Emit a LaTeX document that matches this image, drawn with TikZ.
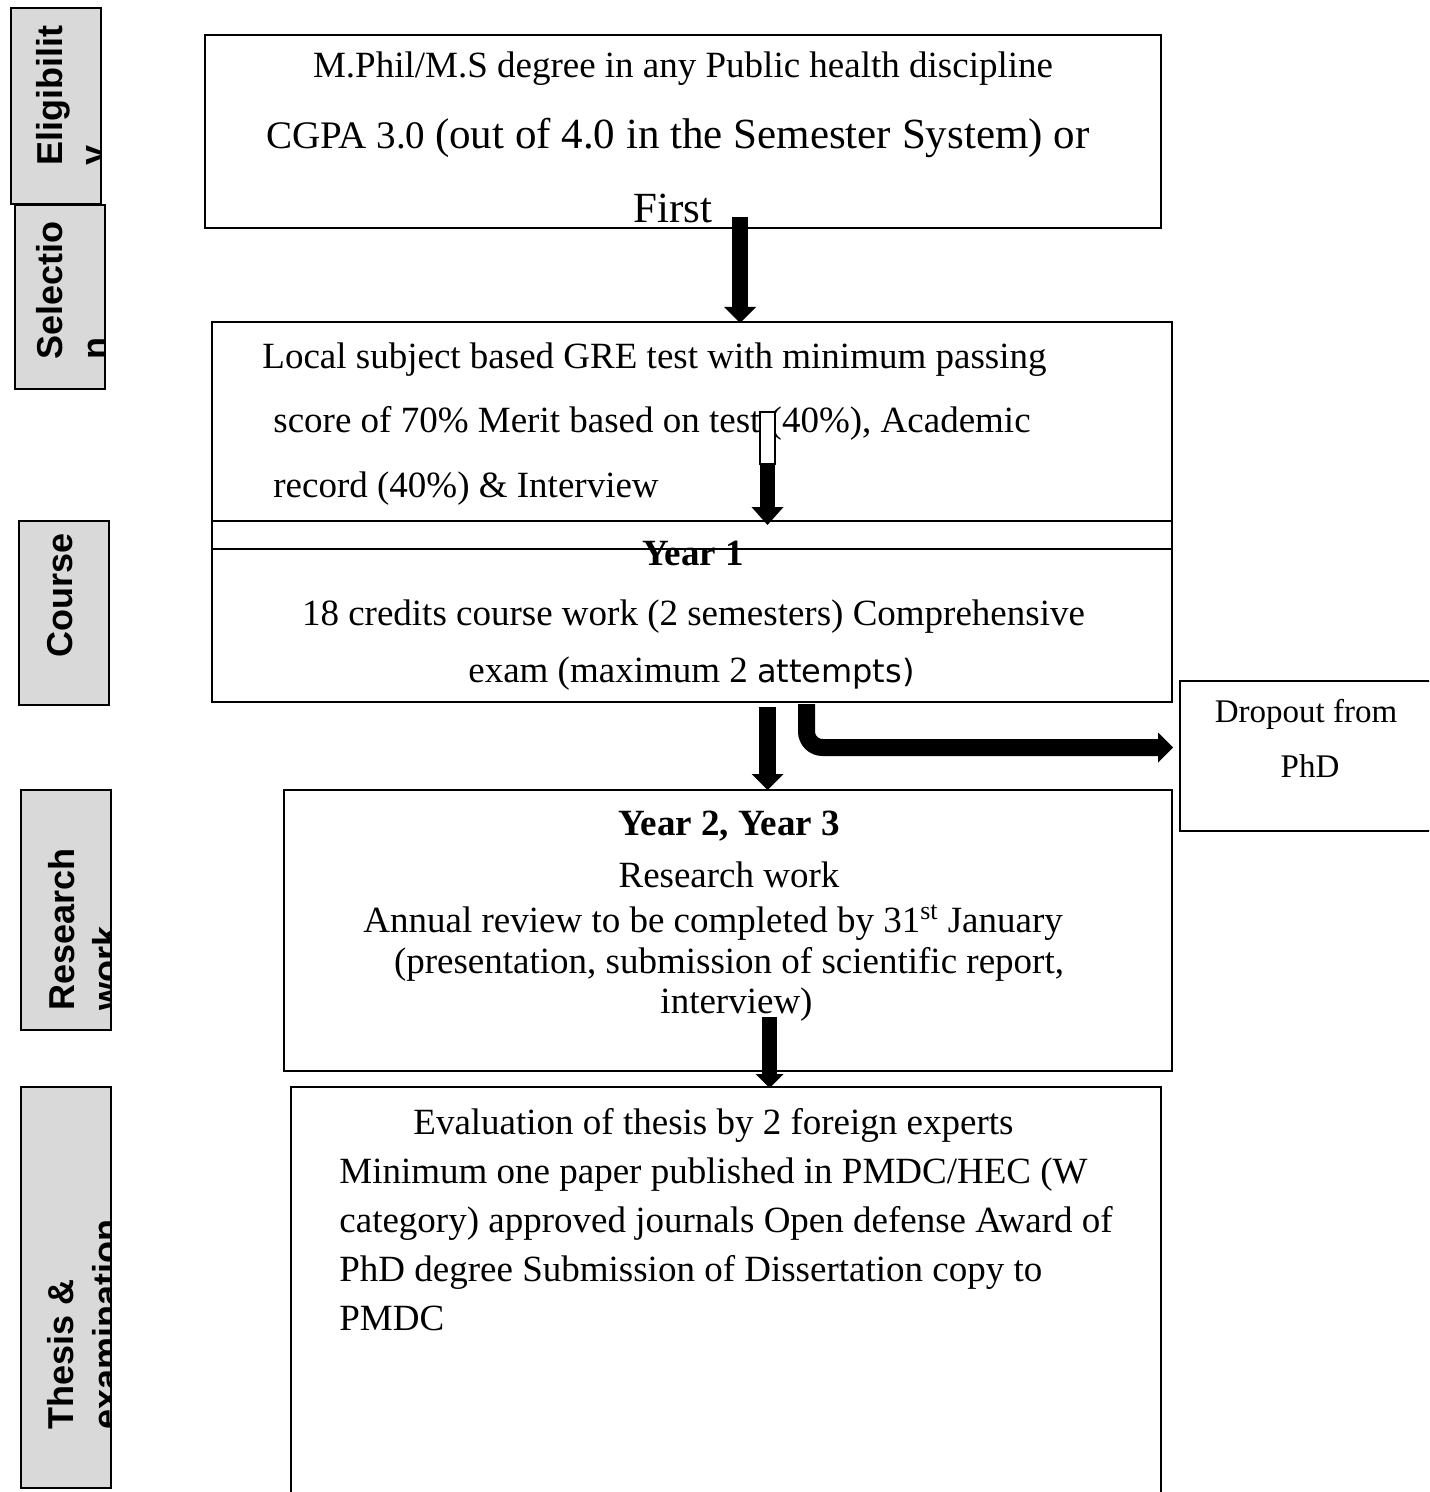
\documentclass[tikz,border=0pt]{standalone}
\usepackage{fontspec}
\setmainfont{Liberation Serif}
\newfontfamily\lblfont{Liberation Sans}
\newfontfamily\dvfont{DejaVu Sans}
\usetikzlibrary{arrows.meta,fit}
\definecolor{lblgray}{HTML}{D9D9D9}
\begin{document}
\begin{tikzpicture}[x=0.5pt,y=-0.5pt,
  box/.style={draw, line width=1pt, inner sep=0pt},
  lblbox/.style={draw, line width=1pt, inner sep=0pt, fill=lblgray},
  txt/.style={inner sep=0pt, font=\fontsize{18.5}{22}\selectfont},
  bigtxt/.style={inner sep=0pt, font=\fontsize{21.5}{26}\selectfont},
  smalltxt/.style={inner sep=0pt, font=\fontsize{16.5}{20}\selectfont},
  lbl/.style={rotate=90, anchor=base west, inner sep=0pt, font=\lblfont\bfseries\fontsize{18}{18}\selectfont},
  barrow/.style={line width=8pt, -{Triangle[width=16pt,length=8pt,line width=0pt]}}
]
\useasboundingbox (0,0) rectangle (1429,1492);
\clip (0,0) rectangle (1429,1492);

% ---------- side labels ----------
\node[lblbox, fit={(11,8) (101,204)}] (lelig) {};
\node[lblbox, fit={(15,205) (105,389)}] (lsel) {};
\node[lblbox, fit={(19,521) (109,705)}] (lcourse) {};
\node[lblbox, fit={(21,790) (111,1030)}] (lres) {};
\node[lblbox, fit={(21,1087) (111,1488)}] (lthesis) {};

\begin{scope}
\clip (11,8) rectangle (101,204);
\node[lbl] (teligA) at (62,166) {Eligibilit};
\node[lbl] (teligB) at (105,166) {y};
\end{scope}
\begin{scope}
\clip (15,205) rectangle (105,389);
\node[lbl] (tselA) at (62,360) {Selectio};
\node[lbl] (tselB) at (107,360) {n};
\end{scope}
\node[lbl] (tcourse) at (72,658) {Course};
\begin{scope}
\clip (21,790) rectangle (111,1030);
\node[lbl] (tresA) at (74,1011) {Research};
\node[lbl] (tresB) at (118,1011) {work};
\end{scope}
\begin{scope}
\clip (21,1087) rectangle (111,1488);
\node[lbl] (tthA) at (73,1430) {Thesis \&};
\node[lbl] (tthB) at (118,1430) {examination};
\end{scope}

% ---------- main boxes ----------
\node[box, fit={(205,35) (1161,228)}] (b1) {};
\node[box, fit={(212,322) (1172,702)}] (b2) {};
\draw[line width=1pt] (212,521) -- (1172,521);
\draw[line width=1pt] (212,549) -- (1172,549);
\node[box, fit={(1180,681) (1445,831)}] (drop) {};
\node[box, fit={(284,790) (1172,1071)}] (b3) {};
\node[box, fit={(291,1087) (1161,1510)}] (b4) {};

% ---------- box 1 text ----------
\node[txt, anchor=base] (t11) at (683,78) {M.Phil/M.S degree in any Public health discipline};
\node[txt, anchor=base west, font=\fontsize{19.5}{22}\selectfont] (t12) at (266,149) {CGPA 3.0 {\fontsize{21.5}{26}\selectfont(out of 4.0 in the Semester System) or}};
\node[bigtxt, anchor=base west] (t13) at (633,223) {First};

% ---------- box 2 text ----------
\node[txt, anchor=base west] (t21) at (262,368) {Local subject based GRE test with minimum passing};
\node[txt, anchor=base west] (t22) at (273,432) {score of 70\% Merit based on test (40\%), Academic};
\node[txt, anchor=base west] (t23) at (273,497) {record (40\%) \& Interview};
\node[txt, anchor=base, font=\fontsize{18.5}{22}\selectfont\bfseries] (t24) at (693,565) {Year 1};
\node[txt, anchor=base] (t25) at (693.5,625) {18 credits course work (2 semesters) Comprehensive};
\node[txt, anchor=base] (t26) at (691.5,682) {exam (maximum 2 {\dvfont\fontsize{16}{20}\selectfont attempts)}};

% ---------- dropout text ----------
\node[smalltxt, anchor=base] (td1) at (1306,722) {Dropout from};
\node[smalltxt, anchor=base] (td2) at (1310,777) {PhD};

% ---------- box 3 text ----------
\node[txt, anchor=base, font=\fontsize{18.5}{22}\selectfont\bfseries] (t31) at (729,835) {Year 2, Year 3};
\node[txt, anchor=base] (t32) at (729,887) {Research work};
\node[txt, anchor=base west] (t33) at (363,932) {Annual review to be completed by 31\textsuperscript{st} January};
\node[txt, anchor=base] (t34) at (729,973) {(presentation, submission of scientific report,};
\node[txt, anchor=base] (t35) at (736.5,1013) {interview)};

% ---------- box 4 text ----------
\node[txt, anchor=base west] (t41) at (413,1134) {Evaluation of thesis by 2 foreign experts};
\node[txt, anchor=base west] (t42) at (339,1183) {Minimum one paper published in PMDC/HEC (W};
\node[txt, anchor=base west] (t43) at (339,1232) {category) approved journals Open defense Award of};
\node[txt, anchor=base west] (t44) at (339,1281) {PhD degree Submission of Dissertation copy to};
\node[txt, anchor=base west] (t45) at (339,1330) {PMDC};

% ---------- arrows ----------
\coordinate (a1s) at (740,217);
\coordinate (a1e) at (740,323);
\draw[barrow] (a1s) -- (a1e);

\coordinate (a2top) at (760,412);
\coordinate (a2mid) at (775,464);
\draw[line width=1pt, fill=white] (a2top) rectangle (a2mid);
\coordinate (a2s) at (767.5,463);
\coordinate (a2e) at (767.5,525);
\draw[barrow, line width=7.5pt, -{Triangle[width=16pt,length=9pt,line width=0pt]}] (a2s) -- (a2e);

\coordinate (a3s) at (767.5,707);
\coordinate (a3e) at (767.5,790);
\draw[barrow, line width=8.5pt] (a3s) -- (a3e);

\coordinate (a5s) at (806.5,704);
\coordinate (a5c) at (806.5,747.5);
\coordinate (a5e) at (1173,747.5);
\draw[line width=8.5pt, rounded corners=8pt, -{Triangle[width=15pt,length=7.5pt,line width=0pt]}] (a5s) -- (a5c) -- (a5e);

\coordinate (a4s) at (769.5,1017);
\coordinate (a4e) at (769.5,1088);
\draw[line width=7.5pt, -{Triangle[width=14pt,length=7pt,line width=0pt]}] (a4s) -- (a4e);
\end{tikzpicture}
\end{document}
